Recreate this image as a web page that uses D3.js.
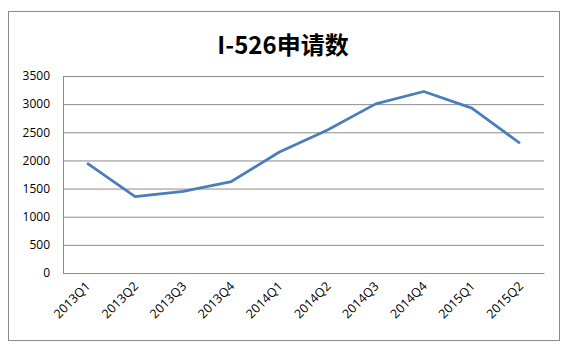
<!DOCTYPE html>
<html>
<head>
<meta charset="utf-8">
<script src="https://cdn.jsdelivr.net/npm/d3@7/dist/d3.min.js"></script>
<style>
  html, body { margin: 0; padding: 0; background: #fff; }
  svg { display: block; }
</style>
</head>
<body>
<svg id="chart" width="575" height="362"></svg>
<script>
const title = "I-526申请数";
const categories = ["2013Q1","2013Q2","2013Q3","2013Q4","2014Q1","2014Q2","2014Q3","2014Q4","2015Q1","2015Q2"];
const values = [1950, 1355, 1450, 1625, 2150, 2540, 3005, 3225, 2930, 2305];
const yTicks = [0, 500, 1000, 1500, 2000, 2500, 3000, 3500];

const svg = d3.select("#chart");
const W = 575, H = 362;
const plot = { left: 63, right: 544, top: 76, bottom: 273 };

svg.append("rect").attr("width", W).attr("height", H).attr("fill", "#fff");
svg.append("rect")
  .attr("x", 8.5).attr("y", 11.5).attr("width", 551).attr("height", 329)
  .attr("fill", "#fff").attr("stroke", "#8c8c8c").attr("stroke-width", 1);

svg.append("text")
  .attr("x", 283).attr("y", 54)
  .attr("text-anchor", "middle")
  .attr("font-family", "'Noto Sans CJK SC', 'Open Sans', sans-serif")
  .attr("font-weight", "bold")
  .attr("font-size", 24)
  .attr("fill", "#000")
  .text(title);

const x = d3.scaleBand().domain(categories).range([plot.left, plot.right]);
const y = d3.scaleLinear().domain([0, 3500]).range([plot.bottom, plot.top]);

// gridlines
const yAxis = d3.axisLeft(y).tickValues(yTicks).tickSize(-(plot.right - plot.left)).tickPadding(13).tickFormat(d3.format("d"));
const gy = svg.append("g").attr("transform", `translate(${plot.left},0)`).call(yAxis);
gy.select(".domain").attr("stroke", "#8c8c8c");
gy.selectAll(".tick line").attr("stroke", "#8c8c8c").attr("stroke-width", 1);
gy.selectAll(".tick text")
  .attr("font-family", "'Open Sans', sans-serif")
  .attr("font-size", 12)
  .attr("fill", "#000");

// x axis baseline and labels
const xAxis = d3.axisBottom(x).tickSize(0).tickFormat(d => d);
const gx = svg.append("g").attr("transform", `translate(0,${plot.bottom})`).call(xAxis);
gx.select(".domain").attr("stroke", "#8c8c8c");
gx.selectAll(".tick text")
  .attr("font-family", "'Open Sans', sans-serif")
  .attr("font-size", 12.5)
  .attr("fill", "#000")
  .attr("text-anchor", "end")
  .attr("dy", 0)
  .attr("y", 0)
  .attr("transform", "translate(4,14) rotate(-45)");

// line
const line = d3.line()
  .x((d, i) => x(categories[i]) + x.bandwidth() / 2)
  .y(d => y(d));
svg.append("path")
  .datum(values)
  .attr("d", line)
  .attr("fill", "none")
  .attr("stroke", "#4a7ebb")
  .attr("stroke-width", 2.75)
  .attr("stroke-linejoin", "round");
</script>
</body>
</html>
